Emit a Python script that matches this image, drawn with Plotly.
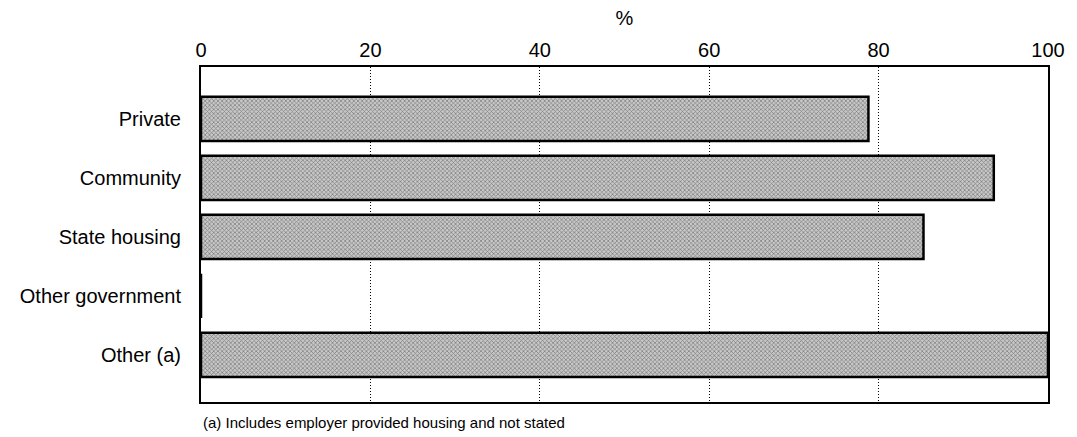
import plotly.graph_objects as go

categories = ["Private", "Community", "State housing", "Other government", "Other (a)"]
values = [78.8, 93.6, 85.3, 0, 100]
x_ticks = [0, 20, 40, 60, 80, 100]
footnote = "(a) Includes employer provided housing and not stated"

FONT = "Liberation Sans, Arial, sans-serif"

fig = go.Figure(
    go.Bar(
        y=categories,
        x=values,
        orientation="h",
        width=0.75,
        marker=dict(
            color="white",
            line=dict(color="black", width=2.5),
            pattern=dict(shape="x", fgcolor="#2a2a2a", bgcolor="#c8c8c8",
                         size=3, solidity=0.4),
        ),
        hoverinfo="x+y",
    )
)

fig.update_layout(
    width=1077,
    height=437,
    margin=dict(l=201, r=29, t=67, b=35),
    paper_bgcolor="white",
    plot_bgcolor="white",
    showlegend=False,
    font=dict(family=FONT, size=20, color="black"),
    xaxis=dict(
        side="top",
        range=[0, 100],
        tickvals=x_ticks,
        ticktext=[str(v) for v in x_ticks],
        ticks="",
        tickfont=dict(size=20),
        showgrid=True,
        gridcolor="black",
        griddash="1px,2px",
        gridwidth=1,
        showline=True,
        linecolor="black",
        linewidth=2,
        mirror=True,
        zeroline=False,
        title=dict(text="%", font=dict(size=20), standoff=8),
    ),
    yaxis=dict(
        categoryorder="array",
        categoryarray=categories,
        range=[4.8, -0.88],
        ticks="",
        ticklabelstandoff=14,
        tickfont=dict(size=20),
        showline=True,
        linecolor="black",
        linewidth=2,
        mirror=True,
        showgrid=False,
        zeroline=False,
    ),
    annotations=[
        dict(
            text=footnote,
            x=0, xref="paper", xanchor="left",
            y=-0.06, yref="paper", yanchor="middle",
            showarrow=False,
            font=dict(size=15, family=FONT),
        )
    ],
)

fig.write_html("out.html")
